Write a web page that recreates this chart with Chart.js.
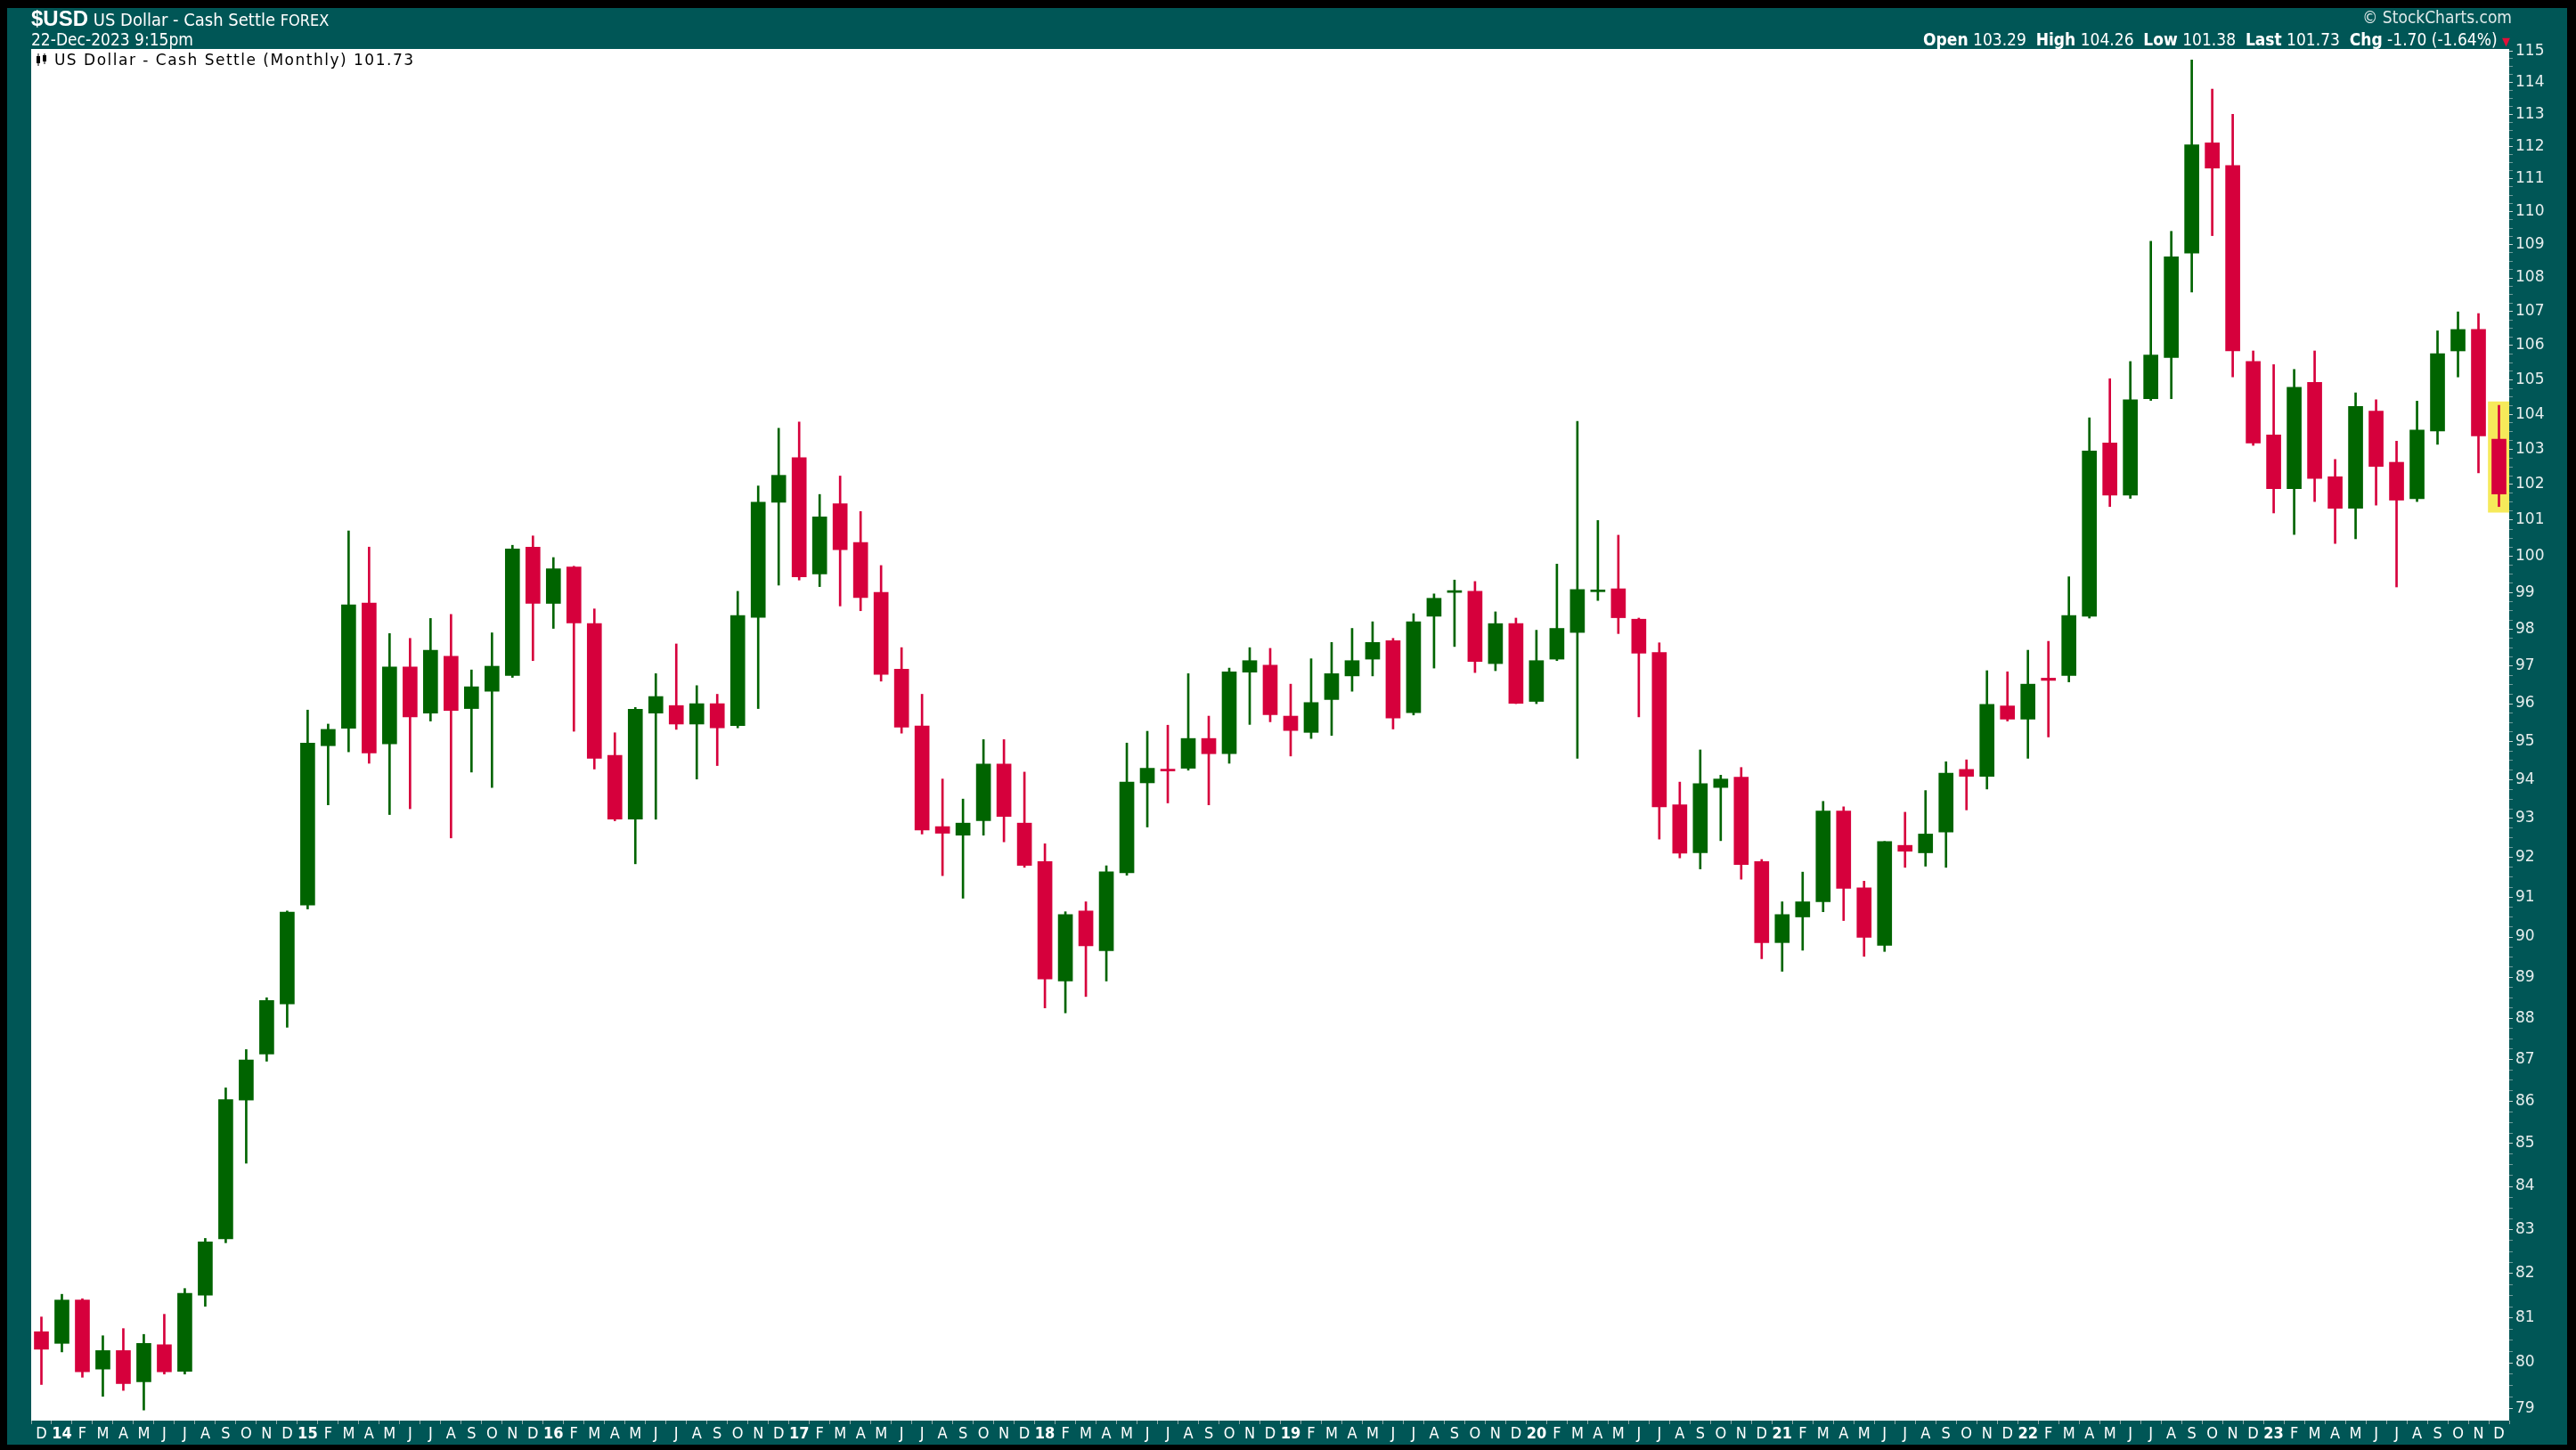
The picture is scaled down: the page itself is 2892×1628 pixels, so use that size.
<!DOCTYPE html>
<html><head><meta charset="utf-8">
<script src="https://cdn.jsdelivr.net/npm/chart.js@4/dist/chart.umd.min.js"></script>
<style>
html,body{margin:0;padding:0;background:#000;}
#wrap{position:relative;width:2892px;height:1628px;overflow:hidden;background:#000;}
canvas{position:absolute;left:0;top:0;}
.t{position:absolute;color:#fff;white-space:nowrap;line-height:1;font-family:'Liberation Sans Narrow','DejaVu Sans Condensed','Liberation Sans',sans-serif;}
.lg{position:absolute;color:#000;white-space:nowrap;line-height:1;font-family:'DejaVu Sans',Verdana,sans-serif;font-size:17px;letter-spacing:1.5px;}
</style></head><body>
<div id="wrap">
<canvas id="c" width="2892" height="1628"></canvas>
<div class="t" style="left:35px;top:9px;font-size:20px;"><b style="font-size:24px;font-family:'Liberation Sans Narrow','Liberation Sans',sans-serif;">$USD</b> US Dollar - Cash Settle <span style="font-size:18px">FOREX</span></div>
<div class="t" style="left:35px;top:35px;font-size:19px;">22-Dec-2023 9:15pm</div>
<div class="t" style="right:72px;top:10px;font-size:19px;color:#dfe9e9;">© StockCharts.com</div>
<div class="t" style="right:74px;top:35px;font-size:19px;"><b>Open</b> 103.29 &nbsp;<b>High</b> 104.26 &nbsp;<b>Low</b> 101.38 &nbsp;<b>Last</b> 101.73 &nbsp;<b>Chg</b> -1.70 (-1.64%) <span style="color:#e0103a;font-size:13px;">▼</span></div>
<div class="lg" style="left:40px;top:59px;"><svg width="14" height="14" viewBox="0 0 14 14" style="vertical-align:-1px"><rect x="1" y="3" width="4" height="8" fill="#000"/><rect x="2.5" y="0" width="1" height="14" fill="#000"/><rect x="8" y="2" width="4" height="7" fill="#000"/><rect x="9.5" y="0" width="1" height="12" fill="#000"/></svg> US Dollar - Cash Settle (Monthly) 101.73</div>
</div>
<script>
// ---- data (monthly candles, Dec 2013 .. Dec 2023) ----
const months = [
'Dec 2013',
'Jan 2014','Feb 2014','Mar 2014','Apr 2014','May 2014','Jun 2014','Jul 2014','Aug 2014','Sep 2014','Oct 2014','Nov 2014','Dec 2014',
'Jan 2015','Feb 2015','Mar 2015','Apr 2015','May 2015','Jun 2015','Jul 2015','Aug 2015','Sep 2015','Oct 2015','Nov 2015','Dec 2015',
'Jan 2016','Feb 2016','Mar 2016','Apr 2016','May 2016','Jun 2016','Jul 2016','Aug 2016','Sep 2016','Oct 2016','Nov 2016','Dec 2016',
'Jan 2017','Feb 2017','Mar 2017','Apr 2017','May 2017','Jun 2017','Jul 2017','Aug 2017','Sep 2017','Oct 2017','Nov 2017','Dec 2017',
'Jan 2018','Feb 2018','Mar 2018','Apr 2018','May 2018','Jun 2018','Jul 2018','Aug 2018','Sep 2018','Oct 2018','Nov 2018','Dec 2018',
'Jan 2019','Feb 2019','Mar 2019','Apr 2019','May 2019','Jun 2019','Jul 2019','Aug 2019','Sep 2019','Oct 2019','Nov 2019','Dec 2019',
'Jan 2020','Feb 2020','Mar 2020','Apr 2020','May 2020','Jun 2020','Jul 2020','Aug 2020','Sep 2020','Oct 2020','Nov 2020','Dec 2020',
'Jan 2021','Feb 2021','Mar 2021','Apr 2021','May 2021','Jun 2021','Jul 2021','Aug 2021','Sep 2021','Oct 2021','Nov 2021','Dec 2021',
'Jan 2022','Feb 2022','Mar 2022','Apr 2022','May 2022','Jun 2022','Jul 2022','Aug 2022','Sep 2022','Oct 2022','Nov 2022','Dec 2022',
'Jan 2023','Feb 2023','Mar 2023','Apr 2023','May 2023','Jun 2023','Jul 2023','Aug 2023','Sep 2023','Oct 2023','Nov 2023','Dec 2023'
];
const xTickLabels = [
'D',
'14','F','M','A','M','J','J','A','S','O','N','D',
'15','F','M','A','M','J','J','A','S','O','N','D',
'16','F','M','A','M','J','J','A','S','O','N','D',
'17','F','M','A','M','J','J','A','S','O','N','D',
'18','F','M','A','M','J','J','A','S','O','N','D',
'19','F','M','A','M','J','J','A','S','O','N','D',
'20','F','M','A','M','J','J','A','S','O','N','D',
'21','F','M','A','M','J','J','A','S','O','N','D',
'22','F','M','A','M','J','J','A','S','O','N','D',
'23','F','M','A','M','J','J','A','S','O','N','D'
];
const opens = [
80.69,
80.43, 81.40, 79.86, 80.27, 79.58, 80.40, 79.81, 81.51, 82.79, 86.03, 87.13, 88.35,
90.80, 94.89, 95.35, 98.71, 94.94, 96.98, 95.75, 97.27, 95.87, 96.33, 96.75, 100.25,
98.70, 99.70, 98.15, 94.64, 92.98, 95.75, 95.95, 95.46, 96.00, 95.42, 98.32, 101.50,
102.76, 99.51, 101.46, 100.38, 99.00, 96.92, 95.41, 92.79, 92.57, 92.94, 94.41, 92.88,
91.90, 88.91, 90.65, 89.66, 91.61, 93.92, 94.25, 94.30, 95.08, 94.68, 96.84, 97.03,
95.67, 95.24, 96.11, 96.74, 97.19, 97.69, 95.76, 98.35, 99.00, 99.03, 97.07, 98.15,
96.06, 97.19, 97.91, 99.02, 99.10, 98.27, 97.37, 93.35, 92.12, 93.80, 94.07, 91.90,
89.86, 90.50, 90.88, 93.19, 91.23, 89.79, 92.31, 92.12, 92.65, 94.27, 94.09, 95.94,
95.59, 96.68, 96.75, 98.35, 103.18, 101.70, 104.45, 105.65, 108.74, 112.11, 111.41, 105.53,
103.41, 101.88, 104.92, 102.22, 101.33, 104.09, 102.63, 101.60, 103.52, 105.84, 106.47, 103.29
];
const highs = [
81.02,
81.53, 81.43, 80.60, 80.76, 80.63, 81.08, 81.66, 82.80, 86.32, 87.24, 88.50, 90.65,
95.83, 95.46, 100.70, 100.25, 97.88, 97.75, 98.29, 98.40, 96.90, 97.90, 100.30, 100.56,
99.96, 99.72, 98.55, 95.23, 95.90, 96.80, 97.60, 96.48, 96.25, 99.03, 101.96, 103.60,
103.78, 101.72, 102.24, 101.24, 99.74, 97.50, 96.25, 94.02, 93.50, 95.05, 95.05, 94.20,
92.35, 90.63, 90.88, 91.79, 94.96, 95.27, 95.43, 96.80, 95.67, 96.95, 97.50, 97.48,
96.52, 97.20, 97.64, 98.02, 98.20, 97.75, 98.42, 98.96, 99.34, 99.30, 98.47, 98.30,
97.97, 99.78, 103.80, 100.99, 100.58, 98.30, 97.63, 93.94, 94.78, 94.12, 94.32, 91.95,
90.88, 91.63, 93.44, 93.30, 91.40, 92.41, 93.16, 93.72, 94.47, 94.52, 96.88, 96.85,
97.43, 97.67, 99.43, 103.90, 105.03, 105.53, 109.10, 109.40, 114.71, 113.79, 113.00, 105.84,
105.44, 105.30, 105.84, 102.71, 104.62, 104.42, 103.23, 104.38, 106.43, 106.99, 106.94, 104.26
];
const lows = [
79.52,
80.24, 79.68, 79.26, 79.39, 78.96, 79.75, 79.75, 81.26, 82.70, 84.54, 86.96, 87.78,
90.70, 93.35, 94.73, 94.43, 93.10, 93.25, 95.54, 92.50, 94.20, 93.80, 96.70, 97.15,
98.02, 95.27, 94.28, 92.94, 91.84, 92.98, 95.32, 94.02, 94.37, 95.36, 95.87, 99.20,
99.34, 99.16, 98.63, 98.50, 96.60, 95.22, 92.60, 91.54, 90.97, 92.57, 92.40, 91.75,
88.25, 88.13, 88.53, 88.91, 91.55, 92.78, 93.40, 94.25, 93.35, 94.43, 95.45, 95.52,
94.62, 95.08, 95.16, 96.33, 96.74, 95.33, 95.70, 96.95, 97.53, 96.83, 96.88, 96.00,
96.00, 97.15, 94.56, 98.78, 97.88, 95.65, 92.47, 91.99, 91.71, 92.43, 91.45, 89.46,
89.15, 89.67, 90.63, 90.41, 89.52, 89.64, 91.75, 91.78, 91.75, 93.22, 93.76, 95.54,
94.56, 95.12, 96.58, 98.30, 101.38, 101.61, 104.40, 104.45, 107.58, 109.27, 105.08, 103.11,
101.20, 100.60, 101.52, 100.35, 100.48, 101.42, 99.15, 101.52, 103.14, 105.08, 102.33, 101.38
];
const closes = [
80.30,
81.40, 79.80, 80.27, 79.54, 80.43, 79.80, 81.55, 82.72, 86.04, 86.99, 88.43, 90.62,
94.96, 95.32, 98.66, 94.70, 96.98, 95.65, 97.43, 95.82, 96.45, 97.00, 100.20, 98.70,
99.65, 98.17, 94.56, 92.98, 95.85, 96.19, 95.46, 96.00, 95.36, 98.37, 101.50, 102.26,
99.43, 101.09, 100.18, 98.86, 96.78, 95.38, 92.70, 92.62, 92.88, 94.41, 93.05, 91.80,
88.96, 90.56, 89.78, 91.64, 93.94, 94.30, 94.23, 95.08, 94.68, 96.85, 97.15, 95.71,
95.29, 96.03, 96.80, 97.15, 97.64, 95.62, 98.20, 98.84, 99.05, 97.13, 98.15, 96.01,
97.15, 98.02, 99.08, 99.04, 98.31, 97.35, 93.30, 92.11, 93.90, 94.02, 91.82, 89.86,
90.56, 90.88, 93.19, 91.22, 89.99, 92.41, 92.16, 92.60, 94.17, 94.09, 95.98, 95.59,
96.52, 96.62, 98.37, 102.95, 101.70, 104.42, 105.72, 108.63, 112.05, 111.33, 105.84, 103.18,
101.88, 104.78, 102.17, 101.33, 104.23, 102.51, 101.56, 103.55, 105.76, 106.47, 103.38, 101.73
];
const yTickLabels = [79,80,81,82,83,84,85,86,87,88,89,90,91,92,93,94,95,96,97,98,99,100,101,102,103,104,105,106,107,108,109,110,111,112,113,114,115];
const highlightIndex = 120;

// ---- styles ----
const UP = '#006400', DOWN = '#d6003c', TEAL = '#005656';
const colorOf = i => closes[i] >= opens[i] ? UP : DOWN;

const bodies = opens.map((o, i) => [o, closes[i]]);
const wicks = lows.map((l, i) => [l, highs[i]]);
const hilite = months.map((m, i) => i === highlightIndex ? [lows[i] - 0.16, highs[i] + 0.1] : null);

const minorTicks = [];
for (let k = 79 * 4; k <= 115 * 4; k++) minorTicks.push(k / 4);

const bgPlugin = {
  id: 'bg',
  beforeDraw(chart) {
    const c = chart.ctx, a = chart.chartArea;
    c.save();
    c.fillStyle = '#000'; c.fillRect(0, 0, chart.width, chart.height);
    c.fillStyle = TEAL; c.fillRect(8, 9, chart.width - 18, chart.height - 15);
    c.fillStyle = '#fff'; c.fillRect(a.left, a.top, a.right - a.left, a.bottom - a.top);
    c.restore();
  }
};

const xFont = 'Liberation Sans Narrow, DejaVu Sans Condensed, Liberation Sans, sans-serif';

new Chart(document.getElementById('c'), {
  type: 'bar',
  data: {
    labels: months,
    datasets: [
      { label: 'body', data: bodies, backgroundColor: months.map((m, i) => colorOf(i)), barThickness: 16, minBarLength: 2, grouped: false, order: 1, borderWidth: 0 },
      { label: 'wick', data: wicks, backgroundColor: months.map((m, i) => colorOf(i)), barThickness: 2, grouped: false, order: 2, borderWidth: 0 },
      { label: 'current', data: hilite, backgroundColor: '#f6ea5a', barThickness: 24, grouped: false, order: 3, borderWidth: 0 }
    ]
  },
  options: {
    responsive: false,
    animation: false,
    devicePixelRatio: 1,
    layout: { padding: { left: 35, top: 55, right: 0, bottom: 0 } },
    plugins: { legend: { display: false }, tooltip: { enabled: false }, title: { display: false } },
    scales: {
      x: {
        type: 'category',
        offset: true,
        afterFit: s => { s.height = 33; },
        grid: { drawOnChartArea: false, tickLength: 4, color: '#8fa9a9', offset: true },
        border: { display: false },
        ticks: {
          autoSkip: false, maxRotation: 0, minRotation: 0, padding: 1, color: '#ffffff',
          callback: (v, i) => xTickLabels[i],
          font: ctx => ({ family: xFont, size: 18, weight: /\d/.test(xTickLabels[ctx.index] || '') ? 'bold' : 'normal' })
        }
      },
      y: {
        type: 'logarithmic',
        position: 'right',
        min: 78.73,
        max: 115.06,
        afterBuildTicks: s => { s.ticks = minorTicks.map(v => ({ value: v })); },
        afterFit: s => { s.width = 75; },
        grid: { drawOnChartArea: false, tickLength: 4, color: ctx => (ctx.tick && Number.isInteger(ctx.tick.value)) ? '#c8d4d4' : '#6f9a9a' },
        border: { display: false },
        ticks: {
          autoSkip: false, padding: 3, color: '#e6eeee',
          font: { family: 'DejaVu Sans, Verdana, sans-serif', size: 17 },
          callback: v => (yTickLabels.includes(v) ? String(v) : '')
        }
      }
    }
  },
  plugins: [bgPlugin]
});
</script>
</body></html>
